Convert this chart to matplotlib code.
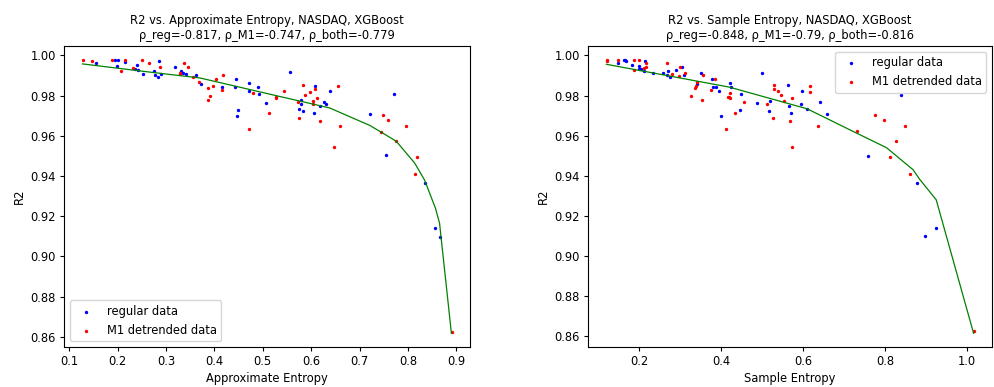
import matplotlib
matplotlib.use("Agg")
import matplotlib.pyplot as plt

# ---------- Left panel: Approximate Entropy ----------
apen_reg_x = [0.155, 0.194, 0.201, 0.2144, 0.198, 0.240, 0.236, 0.241, 0.2528, 0.2755,
              0.2846, 0.277, 0.2832, 0.2894, 0.3177, 0.3307, 0.3342, 0.341, 0.3617, 0.372,
              0.416, 0.4443, 0.4415, 0.4484, 0.4463, 0.4705, 0.4717, 0.4897, 0.4924, 0.5056,
              0.5572, 0.6074, 0.5791, 0.5785, 0.5758, 0.584, 0.606, 0.6184, 0.6274, 0.6315,
              0.6398, 0.7711, 0.7216, 0.754, 0.8345, 0.8566, 0.8655]
apen_reg_y = [0.9963, 0.9976, 0.9976, 0.9969, 0.9949, 0.9954, 0.9934, 0.9926, 0.9909, 0.9923,
              0.9971, 0.9901, 0.9894, 0.9909, 0.9941, 0.9924, 0.9913, 0.9909, 0.9903, 0.9858,
              0.9843, 0.9885, 0.9843, 0.9729, 0.9699, 0.9862, 0.9822, 0.9845, 0.9807, 0.9765,
              0.9916, 0.9850, 0.9777, 0.9760, 0.9734, 0.9722, 0.9712, 0.9747, 0.9767, 0.9759,
              0.9821, 0.9807, 0.9709, 0.9503, 0.9365, 0.9140, 0.9098]

apen_m1_x = [0.1277, 0.1475, 0.1875, 0.2157, 0.206, 0.2316, 0.2508, 0.2652, 0.2873, 0.3362,
             0.3457, 0.3286, 0.3286, 0.356, 0.368, 0.3858, 0.3905, 0.387, 0.3974, 0.4036,
             0.4168, 0.4154, 0.4711, 0.4793, 0.5138, 0.528, 0.528, 0.5434, 0.584, 0.5867,
             0.597, 0.6088, 0.6121, 0.5723, 0.604, 0.604, 0.5758, 0.6177, 0.648, 0.6549,
             0.7484, 0.7588, 0.7953, 0.6596, 0.7443, 0.7753, 0.818, 0.8139, 0.8903]
apen_m1_y = [0.9978, 0.9971, 0.9978, 0.9979, 0.9924, 0.9939, 0.9978, 0.9963, 0.9944, 0.9963,
             0.9941, 0.9913, 0.9906, 0.9894, 0.9866, 0.9838, 0.9797, 0.9777, 0.9850, 0.9885,
             0.9901, 0.9828, 0.9634, 0.9815, 0.9715, 0.9793, 0.9787, 0.9821, 0.9853, 0.9802,
             0.9817, 0.9835, 0.9787, 0.9770, 0.9760, 0.9772, 0.9689, 0.9672, 0.9545, 0.9848,
             0.9704, 0.9679, 0.9649, 0.9649, 0.9619, 0.9576, 0.9496, 0.9410, 0.8624]

apen_fit_x = [0.127, 0.2528, 0.370, 0.5275, 0.638, 0.721, 0.7443, 0.776, 0.8139, 0.8345, 0.857, 0.8655, 0.890]
apen_fit_y = [0.9958, 0.9921, 0.9888, 0.9800, 0.9739, 0.9652, 0.9619, 0.9573, 0.9465, 0.9380, 0.9240, 0.9165, 0.8617]

# ---------- Right panel: Sample Entropy ----------
sampen_reg_x = [0.1483, 0.161, 0.164, 0.167, 0.2138, 0.1823, 0.1976, 0.1993, 0.2034, 0.2107,
                0.2333, 0.2582, 0.2689, 0.2665, 0.2738, 0.2891, 0.3037, 0.3085, 0.3497, 0.3781,
                0.3417, 0.3788, 0.3869, 0.3934, 0.399, 0.4225, 0.4242, 0.4492, 0.446, 0.4985,
                0.4864, 0.5189, 0.5179, 0.5633, 0.5657, 0.5713, 0.598, 0.5948, 0.6094, 0.6402,
                0.6579, 0.8392, 0.7598, 0.8795, 0.8989, 0.9248]
sampen_reg_y = [0.9964, 0.9976, 0.9976, 0.9971, 0.9971, 0.9954, 0.9949, 0.9934, 0.9931, 0.9924,
                0.9911, 0.9911, 0.9921, 0.9904, 0.9894, 0.9926, 0.9943, 0.9903, 0.9911, 0.9885,
                0.9858, 0.9843, 0.9843, 0.9822, 0.9699, 0.9862, 0.9845, 0.9807, 0.9729, 0.9914,
                0.9765, 0.9775, 0.9722, 0.9852, 0.9747, 0.9712, 0.9822, 0.9759, 0.9734, 0.9767,
                0.9709, 0.9805, 0.9501, 0.9364, 0.9098, 0.9138]

sampen_m1_x = [0.1209, 0.1209, 0.1476, 0.1864, 0.2000, 0.2155, 0.2155, 0.2114, 0.1864, 0.2672,
               0.2786, 0.2990, 0.3117, 0.2956, 0.3563, 0.3837, 0.3400, 0.3393, 0.3359, 0.3757,
               0.4184, 0.3255, 0.3539, 0.4121, 0.4225, 0.4176, 0.4225, 0.4548, 0.4347, 0.5130,
               0.5269, 0.5293, 0.5286, 0.5383, 0.5456, 0.5543, 0.5722, 0.5681, 0.5730, 0.6159,
               0.6159, 0.6368, 0.7314, 0.7751, 0.7986, 0.8496, 0.8278, 0.8125, 0.8610, 1.0171]
sampen_m1_y = [0.9978, 0.9971, 0.9978, 0.9979, 0.9978, 0.9961, 0.9944, 0.9938, 0.9926, 0.9964,
               0.9908, 0.9943, 0.9914, 0.9896, 0.9903, 0.9885, 0.9866, 0.9850, 0.9840, 0.9828,
               0.9795, 0.9797, 0.9777, 0.9634, 0.9815, 0.9795, 0.9788, 0.9770, 0.9715, 0.9760,
               0.9687, 0.9853, 0.9835, 0.9822, 0.9803, 0.9772, 0.9787, 0.9672, 0.9545, 0.9848,
               0.9817, 0.9648, 0.9621, 0.9702, 0.9679, 0.9648, 0.9574, 0.9495, 0.9409, 0.8624]

sampen_fit_x = [0.119, 0.420, 0.610, 0.7095, 0.804, 0.869, 0.8853, 0.9256, 1.017]
sampen_fit_y = [0.9956, 0.9842, 0.9734, 0.9634, 0.9540, 0.9430, 0.9382, 0.9280, 0.8614]

titles = ["R2 vs. Approximate Entropy, NASDAQ, XGBoost\nρ_reg=-0.817, ρ_M1=-0.747, ρ_both=-0.779",
          "R2 vs. Sample Entropy, NASDAQ, XGBoost\nρ_reg=-0.848, ρ_M1=-0.79, ρ_both=-0.816"]
xlabels = ["Approximate Entropy", "Sample Entropy"]
legend_locs = ["lower left", "upper right"]

fig = plt.figure(figsize=(9.95, 3.87), dpi=100)
ax1 = fig.add_axes([64 / 995, 1 - 347 / 387, 406 / 995, 301 / 387])
ax2 = fig.add_axes([588 / 995, 1 - 347 / 387, 404 / 995, 301 / 387])

panels = [
    (ax1, apen_reg_x, apen_reg_y, apen_m1_x, apen_m1_y, apen_fit_x, apen_fit_y),
    (ax2, sampen_reg_x, sampen_reg_y, sampen_m1_x, sampen_m1_y, sampen_fit_x, sampen_fit_y),
]
for i, (ax, rx, ry, mx, my, fx, fy) in enumerate(panels):
    ax.scatter(rx, ry, s=2, c="blue", label="regular data")
    ax.scatter(mx, my, s=2, c="red", label="M1 detrended data")
    ax.plot(fx, fy, color="green", lw=0.9)
    ax.set_title(titles[i], fontsize=8.3, pad=5)
    ax.set_xlabel(xlabels[i], fontsize=8.3, labelpad=3)
    ax.set_ylabel("R2", fontsize=8.3, labelpad=3)
    ax.tick_params(labelsize=8.3, length=3, pad=2.8)
    ax.legend(loc=legend_locs[i], fontsize=8.3)

fig.savefig("out.png", dpi=100)
